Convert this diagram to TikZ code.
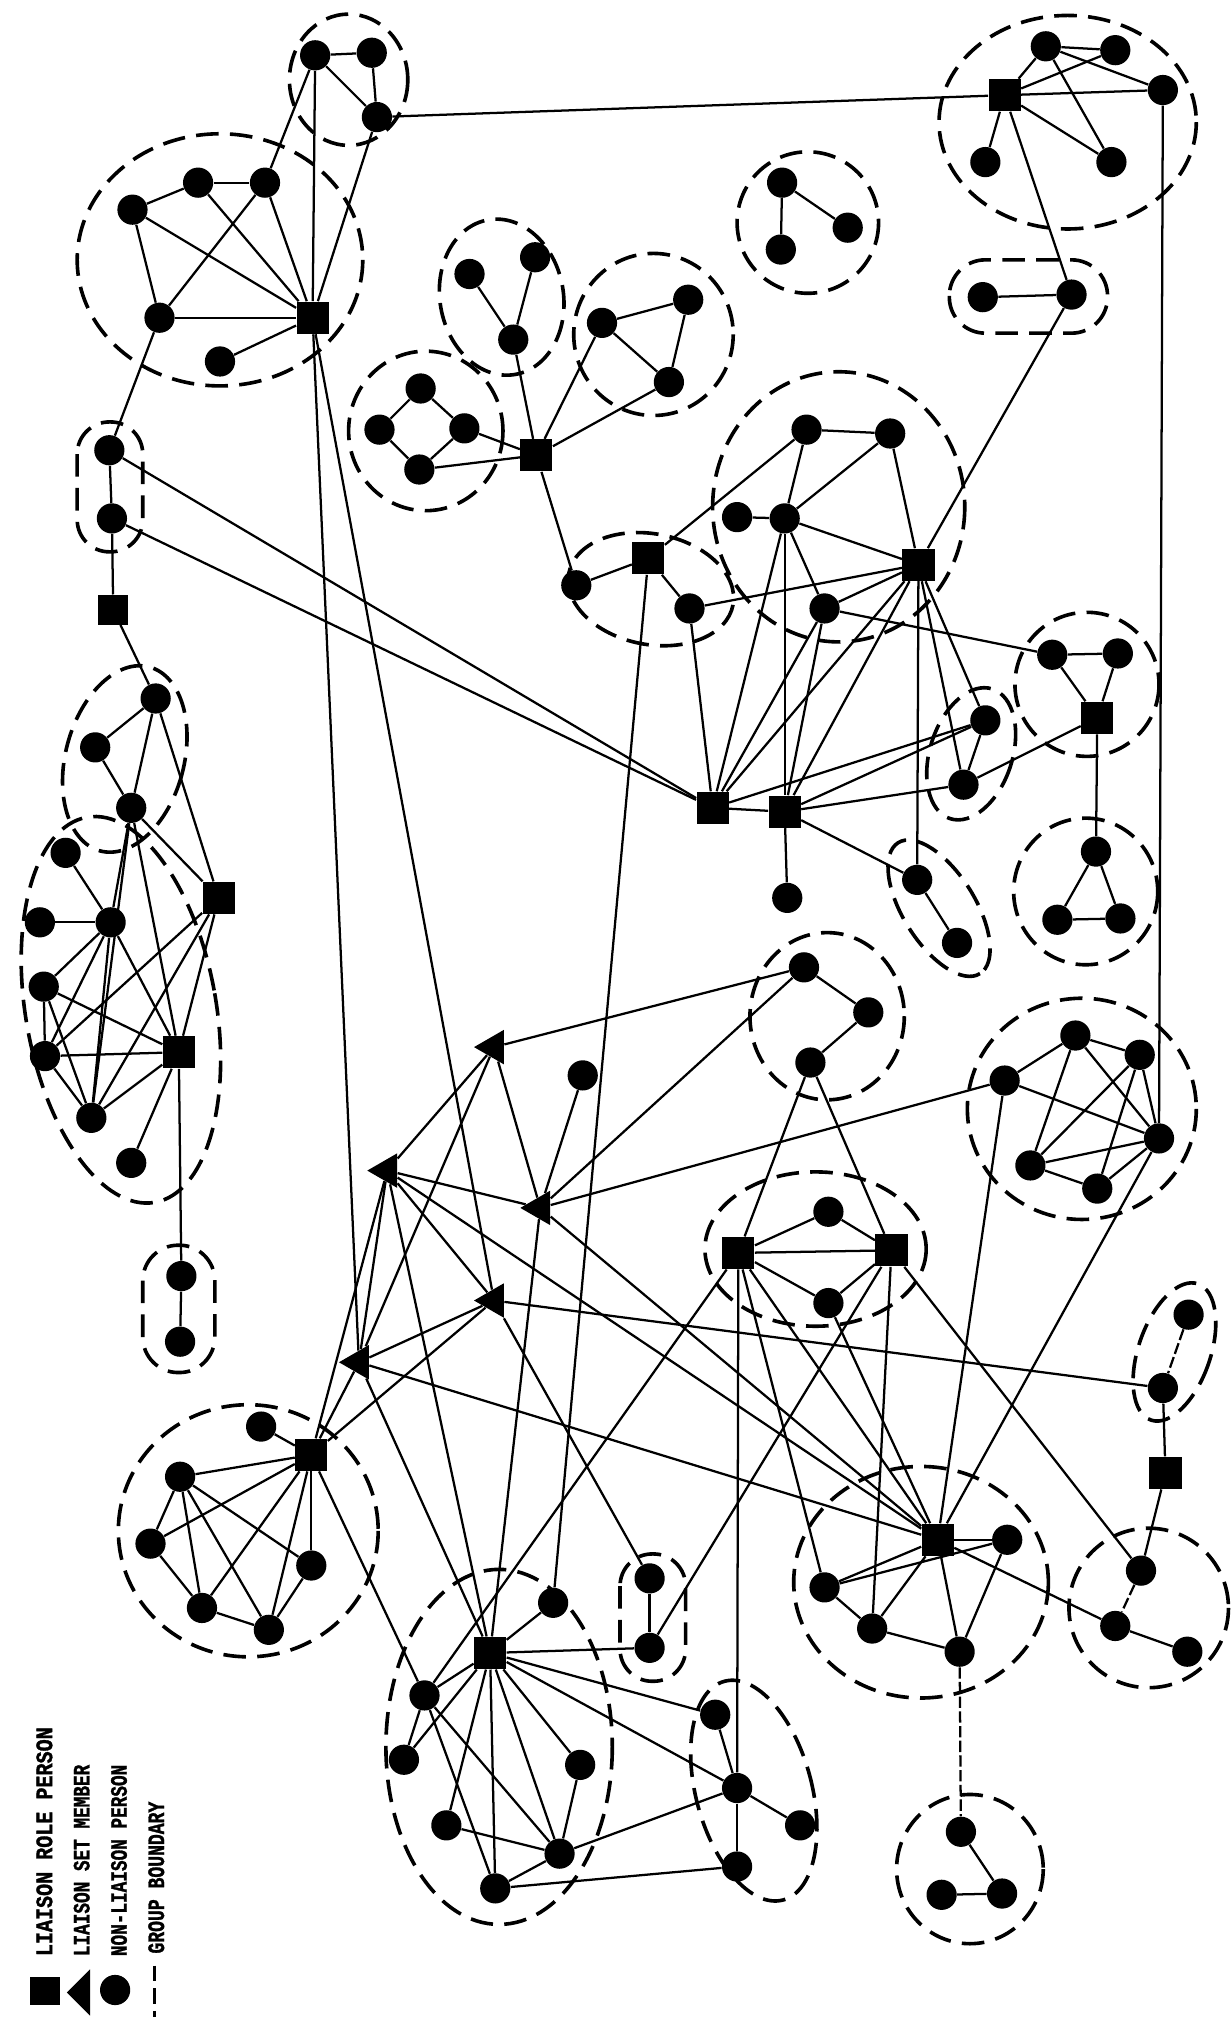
\documentclass[tikz,border=0pt]{standalone}
\usepackage{fontspec}
\usepackage{graphicx}
\usetikzlibrary{shapes.geometric}
\newfontfamily\legfont{Liberation Mono}[BoldFeatures={FakeBold=1.5}]
\begin{document}
\begin{tikzpicture}[x=0.02cm, y=-0.02cm,
  nl/.style={circle, fill=black, inner sep=0pt, minimum size=0.47cm},
  lr/.style={rectangle, fill=black, inner sep=0pt, minimum size=0.5cm},
  lsm/.style={regular polygon, regular polygon sides=3, shape border rotate=90, fill=black, inner sep=0pt, minimum size=0.62cm},
  edge/.style={line width=1pt},
  grp/.style={line width=1.6pt, dash pattern=on 10pt off 5pt},
  brk/.style={line width=1pt, dash pattern=on 5pt off 1.5pt},
  legtext/.style={font=\legfont\bfseries\fontsize{8}{9}\selectfont, inner sep=0pt}]
\useasboundingbox (0,0) rectangle (957,1568);
\fill[white] (0,0) rectangle (957,1568);
% ---------- group boundaries ----------
\draw[grp] (271,62) ellipse [x radius=46, y radius=51];
\draw[grp] (171,202) ellipse [x radius=111, y radius=98];
\draw[grp, rounded corners=0.5cm] (60,328) rectangle (111,429);
\draw[grp] (97,590) ellipse [x radius=46, y radius=74, rotate=-15];
\draw[grp] (94,785) ellipse [x radius=74, y radius=152, rotate=10];
\draw[grp, rounded corners=0.55cm] (111,968) rectangle (167,1067);
\draw[grp] (390,231) ellipse [x radius=48, y radius=61, rotate=10];
\draw[grp] (331,335) ellipse [x radius=60, y radius=62];
\draw[grp] (508,260) ellipse [x radius=62, y radius=63];
\draw[grp] (628,173) ellipse [x radius=55, y radius=55];
\draw[grp] (830,95) ellipse [x radius=100, y radius=83];
\draw[grp, rounded corners=0.56cm] (738,202) rectangle (861,259);
\draw[grp] (652,394) ellipse [x radius=98, y radius=105];
\draw[grp] (506,458) ellipse [x radius=65, y radius=43, rotate=-11];
\draw[grp] (755,586) ellipse [x radius=32, y radius=53, rotate=-18];
\draw[grp] (845,532) ellipse [x radius=56, y radius=56];
\draw[grp] (730,706) ellipse [x radius=60, y radius=28, rotate=-58];
\draw[grp] (844,693) ellipse [x radius=56, y radius=57];
\draw[grp] (643,790) ellipse [x radius=60, y radius=65];
\draw[grp] (634,971) ellipse [x radius=86, y radius=60];
\draw[grp] (841,862) ellipse [x radius=89, y radius=86];
\draw[grp] (716,1230) ellipse [x radius=99, y radius=90];
\draw[grp] (893,1250) ellipse [x radius=62, y radius=62];
\draw[grp] (913,1051) ellipse [x radius=28, y radius=56, rotate=-19];
\draw[grp] (754,1453) ellipse [x radius=57, y radius=58];
\draw[grp] (586,1392) ellipse [x radius=45, y radius=88, rotate=15];
\draw[grp, rounded corners=0.5cm] (482,1208) rectangle (533,1307);
\draw[grp] (388,1358) ellipse [x radius=88, y radius=138];
\draw[grp] (193,1190) ellipse [x radius=101, y radius=98];
% ---------- nodes ----------
\node[nl] (a1) at (245,43) {};
\node[nl] (a2) at (289,41) {};
\node[nl] (a3) at (293,91) {};
\node[nl] (b1) at (103,163) {};
\node[nl] (b2) at (154,142) {};
\node[nl] (b3) at (206,142) {};
\node[nl] (b4) at (124,247) {};
\node[nl] (b5) at (171,281) {};
\node[lr] (sq1) at (243,247) {};
\node[nl] (c1) at (85,350) {};
\node[nl] (c2) at (87,403) {};
\node[lr, minimum size=0.46cm] (sqA) at (88,474) {};
\node[nl] (d1) at (121,543) {};
\node[nl] (d2) at (74,581) {};
\node[nl] (d3) at (102,628) {};
\node[lr] (sqD) at (170,698) {};
\node[nl] (e1) at (51,663) {};
\node[nl] (e2) at (31,717) {};
\node[nl] (e3) at (86,717) {};
\node[nl] (e4) at (34,767) {};
\node[nl] (e5) at (35,821) {};
\node[nl] (e6) at (71,869) {};
\node[nl] (e7) at (102,904) {};
\node[lr] (sqE) at (139,818) {};
\node[nl] (f1) at (141,992) {};
\node[nl] (f2) at (140,1043) {};
\node[nl] (g1) at (365,213) {};
\node[nl] (g2) at (416,200) {};
\node[nl] (g3) at (399,264) {};
\node[lr] (sqG) at (417,354) {};
\node[nl] (h1) at (327,302) {};
\node[nl] (h2) at (295,334) {};
\node[nl] (h3) at (326,365) {};
\node[nl] (h4) at (361,333) {};
\node[nl] (i1) at (468,251) {};
\node[nl] (i2) at (535,233) {};
\node[nl] (i3) at (520,297) {};
\node[nl] (j1) at (608,142) {};
\node[nl] (j2) at (607,194) {};
\node[nl] (j3) at (659,177) {};
\node[lr] (sqK) at (781,74) {};
\node[nl] (k1) at (813,36) {};
\node[nl] (k2) at (867,39) {};
\node[nl] (k3) at (904,70) {};
\node[nl] (k4) at (766,126) {};
\node[nl] (k5) at (864,126) {};
\node[nl] (l1) at (764,231) {};
\node[nl] (l2) at (833,229) {};
\node[nl] (m1) at (627,334) {};
\node[nl] (m2) at (692,337) {};
\node[nl] (m3) at (573,402) {};
\node[nl] (m4) at (610,403) {};
\node[nl] (m5) at (641,473) {};
\node[lr] (sqM) at (714,439) {};
\node[lr] (sqO) at (504,434) {};
\node[nl] (o1) at (448,455) {};
\node[nl] (o2) at (536,473) {};
\node[lr] (sqN1) at (554,628) {};
\node[lr] (sqN2) at (610,631) {};
\node[nl] (n3) at (612,698) {};
\node[nl] (q1) at (766,560) {};
\node[nl] (q2) at (749,610) {};
\node[nl] (r1) at (818,509) {};
\node[nl] (r2) at (869,508) {};
\node[lr] (sqR) at (853,558) {};
\node[nl] (s1) at (713,684) {};
\node[nl] (s2) at (744,733) {};
\node[nl] (t1) at (852,662) {};
\node[nl] (t2) at (822,715) {};
\node[nl] (t3) at (871,714) {};
\node[lsm] (T1) at (384,814) {};
\node[lsm] (T2) at (301,910) {};
\node[lsm] (T3) at (420,939) {};
\node[lsm] (T4) at (384,1011) {};
\node[lsm] (T5) at (279,1059) {};
\node[nl] (u1) at (453,836) {};
\node[nl] (v1) at (625,752) {};
\node[nl] (v2) at (675,787) {};
\node[nl] (v3) at (630,826) {};
\node[nl] (x1) at (836,805) {};
\node[nl] (x2) at (886,820) {};
\node[nl] (x3) at (781,840) {};
\node[nl] (x4) at (901,885) {};
\node[nl] (x5) at (801,906) {};
\node[nl] (x6) at (853,924) {};
\node[lr] (sqW1) at (574,974) {};
\node[lr] (sqW2) at (693,972) {};
\node[nl] (w1) at (644,942) {};
\node[nl] (w2) at (644,1013) {};
\node[nl] (ae1) at (924,1022) {};
\node[nl] (ae2) at (904,1079) {};
\node[lr] (sqAD) at (906,1145) {};
\node[lr] (sqCC) at (242,1131) {};
\node[nl] (cc1) at (203,1109) {};
\node[nl] (cc2) at (140,1148) {};
\node[nl] (cc3) at (117,1200) {};
\node[nl] (cc4) at (242,1217) {};
\node[nl] (cc5) at (157,1250) {};
\node[nl] (cc6) at (209,1267) {};
\node[lr] (sqY) at (729,1197) {};
\node[nl] (y1) at (678,1266) {};
\node[nl] (y2) at (641,1234) {};
\node[nl] (y3) at (746,1284) {};
\node[nl] (y4) at (783,1197) {};
\node[nl] (ac1) at (887,1221) {};
\node[nl] (ac2) at (867,1264) {};
\node[nl] (ac3) at (923,1284) {};
\node[nl] (aa1) at (505,1227) {};
\node[nl] (aa2) at (505,1281) {};
\node[lr] (sqBB) at (381,1285) {};
\node[nl] (bb1) at (430,1246) {};
\node[nl] (bb2) at (330,1318) {};
\node[nl] (bb3) at (314,1368) {};
\node[nl] (bb4) at (347,1419) {};
\node[nl] (bb5) at (451,1372) {};
\node[nl] (bb6) at (435,1441) {};
\node[nl] (bb7) at (385,1468) {};
\node[nl] (z1) at (556,1333) {};
\node[nl] (z2) at (573,1390) {};
\node[nl] (z3) at (622,1419) {};
\node[nl] (z4) at (573,1451) {};
\node[nl] (ab1) at (747,1424) {};
\node[nl] (ab2) at (732,1473) {};
\node[nl] (ab3) at (779,1472) {};
% ---------- connectors ----------
\foreach \u/\v in {a1/a2, a1/a3, a2/a3, a3/sqK, a1/sq1, a3/sq1, a1/b3,
  b1/b2, b2/b3, b1/b4, b1/sq1, b2/sq1, b3/sq1, b3/b4, b4/sq1, b5/sq1, b4/c1,
  c1/c2, c2/sqA, c1/sqN1, c2/sqN1,
  sqA/d1, d1/d2, d2/d3, d1/d3, d1/sqD, d3/sqD, d3/e3, d3/e6, d3/sqE,
  e1/e3, e2/e3, e3/e4, e3/e5, e3/e6, e3/sqE, e4/e5, e4/e6, e4/sqE, e5/sqE, e5/e6, e5/sqD, e6/sqE, e6/sqD, e7/sqE, sqE/sqD, sqE/f1, f1/f2,
  sq1/T5, sq1/T4,
  g1/g3, g2/g3, g3/sqG, h1/h2, h2/h3, h1/h4, h4/h3, h4/sqG, h3/sqG, i1/i2, i2/i3, i1/i3, i1/sqG, i3/sqG, sqG/o1,
  j1/j2, j1/j3,
  sqK/k1, k1/k2, sqK/k2, k1/k3, sqK/k3, sqK/k4, sqK/k5, k1/k5, sqK/l2, k3/x4, l1/l2, l2/sqM,
  o1/sqO, sqO/o2, sqO/m1, sqO/bb1, o2/sqM, o2/sqN1,
  m1/m2, m1/m4, m2/m4, m2/sqM, m3/m4, m4/sqM, m4/m5, m5/sqM, m5/r1,
  sqM/sqN1, sqM/sqN2, sqM/q1, sqM/q2, sqM/s1,
  sqN1/sqN2, sqN1/m4, sqN1/m5, sqN1/q1, sqN2/m4, sqN2/m5, sqN2/q1, sqN2/q2, sqN2/s1, sqN2/n3,
  r1/r2, r1/sqR, r2/sqR, sqR/q2, sqR/t1, t1/t2, t1/t3, t2/t3, q1/q2, s1/s2,
  v1/v2, v2/v3, v1/T1, v1/T3, v3/sqW1, v3/sqW2,
  x1/x2, x1/x3, x1/x4, x1/x5, x2/x4, x2/x5, x2/x6, x3/x4, x4/x5, x4/x6, x5/x6, x3/T3, x3/sqY, x4/sqY,
  sqW1/sqW2, w1/sqW1, w1/sqW2, w2/sqW1, w2/sqW2, sqW1/z2, sqW1/bb2, sqW1/y2, sqW1/sqY, sqW2/y1, sqW2/aa2, sqW2/ac1, w2/sqY,
  sqY/y4, sqY/y2, y2/y4, y2/y1, y1/sqY, y1/y3, sqY/y3, y4/y3, sqY/ac2,
  ac2/ac3, ac1/sqAD, sqAD/ae2,
  ab1/ab3, ab2/ab3,
  aa1/aa2, T4/aa1, aa2/sqBB,
  sqBB/bb1, sqBB/bb2, sqBB/bb3, sqBB/bb4, sqBB/bb5, sqBB/bb6, sqBB/bb7, sqBB/z1, sqBB/z2, bb2/bb3, bb2/bb7, bb2/bb6, bb4/bb6, bb5/bb6, bb6/bb7, bb6/z2, bb7/z4, sqCC/bb2,
  z1/z2, z2/z3, z2/z4,
  sqCC/cc1, sqCC/cc2, sqCC/cc3, sqCC/cc4, sqCC/cc5, sqCC/cc6, cc2/cc3, cc2/cc5, cc2/cc6, cc2/cc4, cc3/cc5, cc5/cc6, cc6/cc4,
  sqCC/T2, sqCC/T5, sqCC/T4,
  T1/T2, T1/T3, T1/T5, T2/T3, T2/T4, T2/T5, T2/sqY, T2/sqBB, T3/u1, T3/sqBB, T3/sqY, T4/T5, T4/ae2, T5/sqBB, T5/sqY}
  \draw[edge] (\u) -- (\v);
\foreach \u/\v in {y3/ab1, ac1/ac2, ae1/ae2}
  \draw[brk] (\u) -- (\v);
% ---------- legend ----------
\node[lr, minimum width=0.48cm, minimum height=0.44cm] (legsq) at (35,1548) {};
\fill (52,1549) -- (70,1531) -- (70,1567) -- cycle;
\node[nl] (legci) at (89.5,1547) {};
\draw[line width=1.6pt, dash pattern=on 7pt off 3pt] (120,1528) -- (120,1568);
\node[legtext, rotate=90, anchor=west] (lt1) at (34.5,1521) {\scalebox{1.11}[1.3]{LIAISON ROLE PERSON}};
\node[legtext, rotate=90, anchor=west] (lt2) at (63.5,1521) {\scalebox{0.98}[1.3]{LIAISON SET MEMBER}};
\node[legtext, rotate=90, anchor=west] (lt3) at (92.5,1521) {\scalebox{0.98}[1.3]{NON-LIAISON PERSON}};
\node[legtext, rotate=90, anchor=west] (lt4) at (121.5,1519) {\scalebox{1}[1.3]{GROUP BOUNDARY}};
\end{tikzpicture}
\end{document}
